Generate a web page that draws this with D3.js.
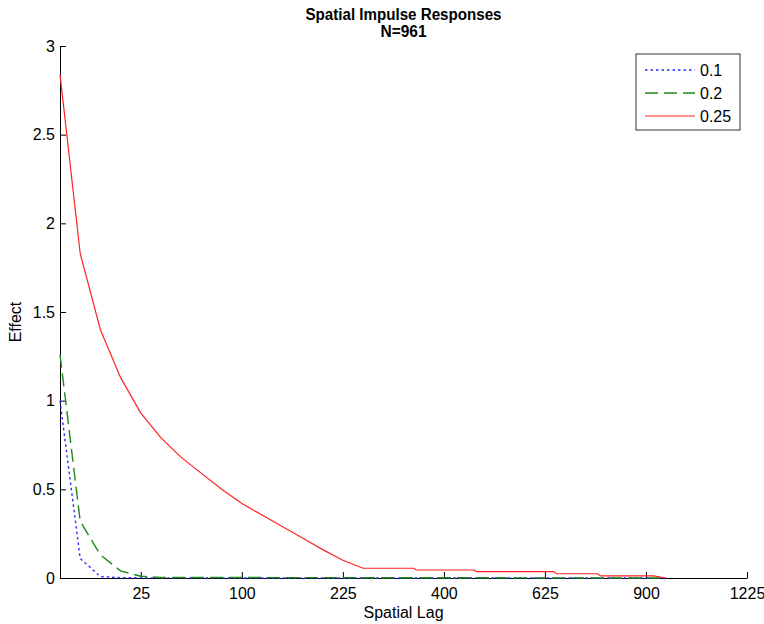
<!DOCTYPE html>
<html>
<head>
<meta charset="utf-8">
<script src="https://cdn.jsdelivr.net/npm/d3@7"></script>
<style>
  body { margin: 0; background: #fff; }
  svg text { font-family: "Liberation Sans", Arial, sans-serif; fill: #000; }
</style>
</head>
<body>
<div id="chart-area"></div>
<script>
// Spatial impulse responses, N=961 (31 x 31 grid)
var xTicks = [25, 100, 225, 400, 625, 900, 1225];
var yTicks = [0, 0.5, 1, 1.5, 2, 2.5, 3];
var seriesNames = ["0.1", "0.2", "0.25"];

var blueLag = [1, 4, 9, 16, 25, 961];
var blueVal = [1.0, 0.11, 0.008, 0.002, 0.0005, 0];

var greenLag = [1, 4, 9, 16, 25, 36, 961];
var greenVal = [1.26, 0.32, 0.13, 0.04, 0.01, 0.003, 0];

var redLag = [1, 4, 9, 16, 25, 36, 49, 64, 81, 100, 121, 144, 169, 196, 225, 256,
    343, 347, 461, 468, 647, 654, 762, 770, 922, 961];
var redVal = [2.84, 1.83, 1.40, 1.13, 0.93, 0.79, 0.68, 0.59, 0.50, 0.42, 0.355, 0.29,
    0.225, 0.16, 0.10, 0.055, 0.055, 0.045, 0.045, 0.036, 0.036, 0.024, 0.024, 0.012, 0.012, 0];

var margin = { left: 60, right: 17, top: 46, bottom: 46 };
var width = 764 - margin.left - margin.right,
    height = 624 - margin.top - margin.bottom;

var svg = d3.select("#chart-area").append("svg")
    .attr("width", 764)
    .attr("height", 624);

var g = svg.append("g").attr("transform", "translate(" + margin.left + ", " + margin.top + ")");

// sqrt scale: ticks are squares, equally spaced
var x = d3.scalePow().exponent(0.5).domain([1, 1225]).range([0, width]);
var y = d3.scaleLinear().domain([0, 3]).range([height, 0]);

// Title
svg.append("text")
    .attr("x", margin.left + width / 2)
    .attr("y", 20)
    .attr("text-anchor", "middle")
    .attr("font-size", "16px")
    .attr("font-weight", "bold")
    .attr("textLength", 196)
    .attr("lengthAdjust", "spacingAndGlyphs")
    .text("Spatial Impulse Responses");
svg.append("text")
    .attr("x", margin.left + width / 2)
    .attr("y", 37)
    .attr("text-anchor", "middle")
    .attr("font-size", "16px")
    .attr("font-weight", "bold")
    .attr("textLength", 46)
    .attr("lengthAdjust", "spacingAndGlyphs")
    .text("N=961");

// Axes, ticks pointing inward
var xAxis = d3.axisBottom(x).tickValues(xTicks).tickSizeInner(-6).tickSizeOuter(0).tickPadding(10)
    .tickFormat(d3.format("d"));
var yAxis = d3.axisLeft(y).tickValues(yTicks).tickSizeInner(-6).tickSizeOuter(0).tickPadding(5)
    .tickFormat(d3.format(""));

var xAxisGroup = g.append("g")
    .attr("class", "x axis")
    .attr("transform", "translate(0, " + height + ")")
    .call(xAxis);
var yAxisGroup = g.append("g")
    .attr("class", "y axis")
    .call(yAxis);

g.selectAll(".axis text").attr("font-size", "16px").style("font-family", "Liberation Sans, Arial, sans-serif");
g.selectAll(".axis path, .axis line").attr("stroke", "#000");

// Labels
g.append("text")
    .attr("x", width / 2)
    .attr("y", height + 40)
    .attr("font-size", "16px")
    .attr("text-anchor", "middle")
    .text("Spatial Lag");
g.append("text")
    .attr("x", -(height / 2) - 10)
    .attr("y", -39)
    .attr("font-size", "16px")
    .attr("text-anchor", "middle")
    .attr("transform", "rotate(-90)")
    .text("Effect");

// Lines
var series = [
    { name: seriesNames[0], lag: blueLag, val: blueVal, color: "#2a2aff", dash: "2.5,3", w: 1.4 },
    { name: seriesNames[1], lag: greenLag, val: greenVal, color: "#1d8a1d", dash: "13,6", w: 1.4 },
    { name: seriesNames[2], lag: redLag, val: redVal, color: "#ff2222", dash: null, w: 1.2 }
];

var line = d3.line()
    .x(function (d) { return x(d[0]); })
    .y(function (d) { return y(d[1]); });

series.forEach(function (s) {
    var pts = s.lag.map(function (l, i) { return [l, s.val[i]]; });
    g.append("path")
        .datum(pts)
        .attr("fill", "none")
        .attr("stroke", s.color)
        .attr("stroke-width", s.w)
        .attr("stroke-dasharray", s.dash)
        .attr("d", line);
});

// Legend
var legend = svg.append("g").attr("transform", "translate(636, 54)");
legend.append("rect")
    .attr("width", 104)
    .attr("height", 76)
    .attr("fill", "#fff")
    .attr("stroke", "#333")
    .attr("stroke-width", 1);

var items = legend.selectAll(".item")
    .data(series)
    .enter().append("g")
    .attr("transform", function (d, i) { return "translate(0, " + (16 + i * 23) + ")"; });
items.append("line")
    .attr("x1", 9).attr("x2", 59)
    .attr("stroke", function (d) { return d.color; })
    .attr("stroke-width", function (d) { return d.w; })
    .attr("stroke-dasharray", function (d) { return d.dash; });
items.append("text")
    .attr("x", 64)
    .attr("y", 6)
    .attr("font-size", "16px")
    .text(function (d) { return d.name; });
</script>
</body>
</html>
